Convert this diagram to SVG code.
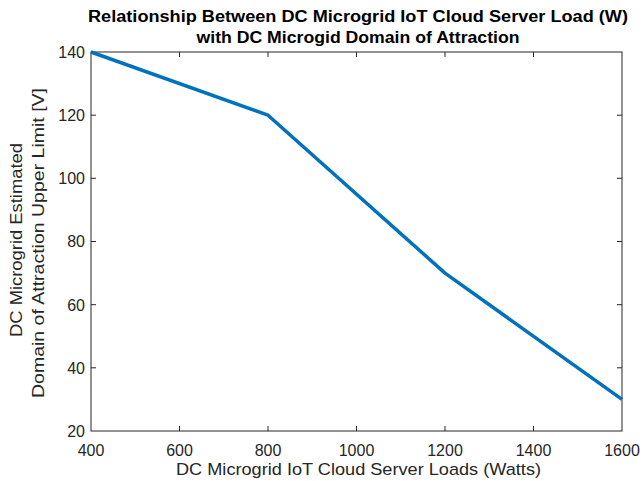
<svg xmlns="http://www.w3.org/2000/svg" width="644" height="481" viewBox="0 0 644 481">
<style>
text{font-family:"Liberation Sans",Arial,sans-serif;fill:#262626}
.t{font-size:16px;font-weight:bold;fill:#000;text-anchor:middle}
.yl{font-size:16px;text-anchor:end}
.xl{font-size:16px;text-anchor:middle}
.lab{font-size:17px;text-anchor:middle}
.ax{stroke:#262626;stroke-width:1;fill:none}
</style>
<rect width="644" height="481" fill="#fff"/>
<g id="title">
<text class="t" x="358" y="22" textLength="540" lengthAdjust="spacingAndGlyphs">Relationship Between DC Microgrid IoT Cloud Server Load (W)</text>
<text class="t" x="358" y="43" textLength="323" lengthAdjust="spacingAndGlyphs">with DC Microgid Domain of Attraction</text>
</g>
<g id="axes">
<rect class="ax" x="91" y="52" width="531" height="379"/>
<path class="ax" d="M179.5 431v-5M268 431v-5M356.5 431v-5M445 431v-5M533.5 431v-5M179.5 52v5M268 52v5M356.5 52v5M445 52v5M533.5 52v5M91 115.2h5M91 178.3h5M91 241.5h5M91 304.7h5M91 367.8h5M622 115.2h-5M622 178.3h-5M622 241.5h-5M622 304.7h-5M622 367.8h-5"/>
<text class="yl" x="85" y="58">140</text>
<text class="yl" x="85" y="121">120</text>
<text class="yl" x="85" y="184">100</text>
<text class="yl" x="85" y="247">80</text>
<text class="yl" x="85" y="311">60</text>
<text class="yl" x="85" y="374">40</text>
<text class="yl" x="85" y="437">20</text>
<text class="xl" x="91" y="456">400</text>
<text class="xl" x="179.5" y="456">600</text>
<text class="xl" x="268" y="456">800</text>
<text class="xl" x="356.5" y="456">1000</text>
<text class="xl" x="445" y="456">1200</text>
<text class="xl" x="533.5" y="456">1400</text>
<text class="xl" x="622" y="456">1600</text>
<text class="lab" x="358.5" y="475" textLength="365" lengthAdjust="spacingAndGlyphs">DC Microgrid IoT Cloud Server Loads (Watts)</text>
<text class="lab" transform="translate(22,240) rotate(-90)" textLength="194" lengthAdjust="spacingAndGlyphs">DC Microgrid Estimated</text>
<text class="lab" transform="translate(44,243) rotate(-90)" textLength="310" lengthAdjust="spacingAndGlyphs">Domain of Attraction Upper Limit [V]</text>
</g>
<g id="connectors">
<polyline points="91,52 268,115.2 445,273.1 622,399.4" fill="none" stroke="#0072BD" stroke-width="3.5" stroke-linejoin="round"/>
</g>
</svg>
